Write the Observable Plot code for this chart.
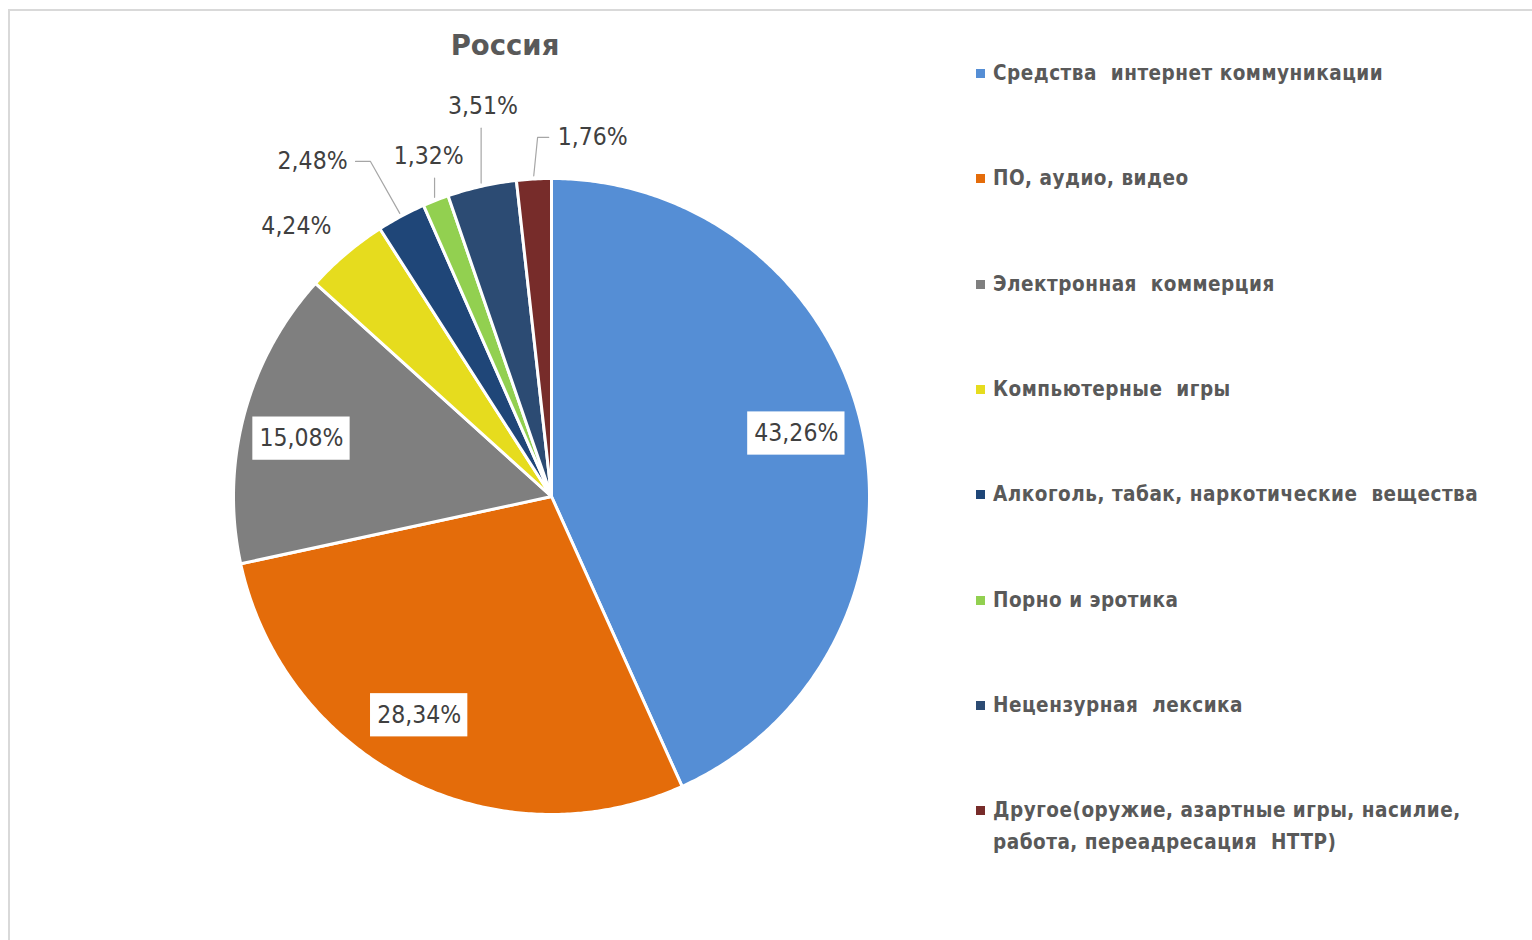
<!DOCTYPE html>
<html>
<head>
<meta charset="utf-8">
<script src="https://cdn.jsdelivr.net/npm/d3@7"></script>
<script src="https://cdn.jsdelivr.net/npm/@observablehq/plot@0.6"></script>
<style>
  body { margin: 0; background: #fff; }
  #wrap { position: relative; width: 1532px; height: 940px; overflow: hidden; font-family: "DejaVu Sans Condensed", "DejaVu Sans", sans-serif; font-stretch: condensed; }
  #frame { position: absolute; left: 8px; top: 9px; width: 1600px; height: 1000px; border-top: 2px solid #d9d9d9; border-left: 2px solid #d9d9d9; }
  #chart { position: absolute; left: 0; top: 0; }
  #title { position: absolute; left: 505px; top: 45px; transform: translate(-50%, -50%); font-family: "DejaVu Sans", sans-serif; font-stretch: normal; font-weight: bold; font-size: 27.5px; color: #595959; white-space: nowrap; }
  .item { position: absolute; left: 976px; display: flex; align-items: flex-start; color: #595959; font-weight: bold; font-size: 20.5px; letter-spacing: 0.5px; line-height: 32px; }
  .sw { width: 9px; height: 9px; margin-top: 12px; margin-right: 8px; flex: none; }
  .txt { width: 520px; }
</style>
</head>
<body>
<div id="wrap">
  <div id="frame"></div>
  <div id="chart"></div>
  <div id="title">Россия</div>
  <div id="legend"></div>
</div>
<script>
// ---- data ----
const categories = [
  "Средства  интернет коммуникации",
  "ПО, аудио, видео",
  "Электронная  коммерция",
  "Компьютерные  игры",
  "Алкоголь, табак, наркотические  вещества",
  "Порно и эротика",
  "Нецензурная  лексика",
  "Другое(оружие, азартные игры, насилие, работа, переадресация  HTTP)"
];
const values = [43.26, 28.34, 15.08, 4.24, 2.48, 1.32, 3.51, 1.76];
const labels = ["43,26%", "28,34%", "15,08%", "4,24%", "2,48%", "1,32%", "3,51%", "1,76%"];
const colors = ["#558ED5", "#E46C0A", "#7F7F7F", "#E6DC1E", "#1F4678", "#92D050", "#2C4B73", "#772C2A"];

// ---- label layout (radius in pie radii, angular nudge in degrees) ----
const labelRadius = [0.795, 0.804, 0.807, 1.168, 1.294, 1.137, 1.245, 1.137];
const labelShift = [-2.3, 4.4, -1.9, -3.1, -7.3, 1.5, 2.7, 9.7];
const labelBoxed = [true, true, true, false, false, false, false, false];
const leaderSide = [null, null, null, null, "right", "below", "below", "left"];

// ---- geometry from data ----
const total = d3.sum(values);
let acc = 0;
const slices = values.map((v, i) => {
  const a0 = acc / total * 2 * Math.PI; acc += v;
  const a1 = acc / total * 2 * Math.PI;
  return {i, a0, a1, mid: (a0 + a1) / 2};
});
const pts = [];
slices.forEach(s => {
  const k = categories[s.i];
  pts.push({k, x: 0, y: 0});
  const n = Math.max(2, Math.ceil((s.a1 - s.a0) / (Math.PI / 360)));
  for (let j = 0; j <= n; j++) {
    const a = s.a0 + (s.a1 - s.a0) * j / n;
    pts.push({k, x: Math.sin(a), y: Math.cos(a)});
  }
  pts.push({k, x: 0, y: 0});
});
const labelData = slices.map(s => {
  const a = s.mid + labelShift[s.i] * Math.PI / 180;
  const r = labelRadius[s.i];
  return {i: s.i, text: labels[s.i], x: r * Math.sin(a), y: r * Math.cos(a), mid: s.mid};
});
const boxes = labelData.filter(d => labelBoxed[d.i]).map(d => ({x1: d.x - 0.153, x2: d.x + 0.153, y1: d.y - 0.068, y2: d.y + 0.068}));
const leaders = [];
labelData.forEach(d => {
  const side = leaderSide[d.i];
  if (!side) return;
  const ex = Math.sin(d.mid) * 1.01, ey = Math.cos(d.mid) * 1.01;
  leaders.push({id: d.i, x: ex, y: ey});
  if (side === "below") {
    leaders.push({id: d.i, x: ex, y: d.y - 0.068});
  } else if (side === "right") {
    leaders.push({id: d.i, x: d.x + 0.182, y: d.y});
    leaders.push({id: d.i, x: d.x + 0.135, y: d.y});
  } else {
    leaders.push({id: d.i, x: d.x - 0.173, y: d.y});
    leaders.push({id: d.i, x: d.x - 0.138, y: d.y});
  }
});

// ---- plot ----
const W = 960, H = 940, cx = 551, cy = 496, R = 318;
const chart = Plot.plot({
  width: W, height: H, margin: 0,
  style: {fontFamily: '"DejaVu Sans Condensed", "DejaVu Sans", sans-serif', fontStretch: "condensed", background: "transparent"},
  x: {domain: [-cx / R, (W - cx) / R], axis: null},
  y: {domain: [-(H - cy) / R, cy / R], axis: null},
  color: {domain: categories, range: colors},
  marks: [
    Plot.line(pts, {x: "x", y: "y", z: "k", fill: "k", stroke: "white", strokeWidth: 3, strokeLinejoin: "round"}),
    Plot.line(leaders, {x: "x", y: "y", z: "id", stroke: "#a6a6a6", strokeWidth: 1.2}),
    Plot.rect(boxes, {x1: "x1", x2: "x2", y1: "y1", y2: "y2", fill: "white"}),
    Plot.text(labelData, {x: "x", y: "y", text: "text", fontSize: 24.5, fill: "#404040"})
  ]
});
document.getElementById("chart").appendChild(chart);

// ---- legend ----
const legend = d3.select("#legend");
categories.forEach((c, i) => {
  const item = legend.append("div").attr("class", "item").style("top", (73 - 16 + i * 105.3) + "px");
  item.append("div").attr("class", "sw").style("background", colors[i]);
  item.append("div").attr("class", "txt").style("white-space", "pre-wrap").text(c);
});
</script>
</body>
</html>
